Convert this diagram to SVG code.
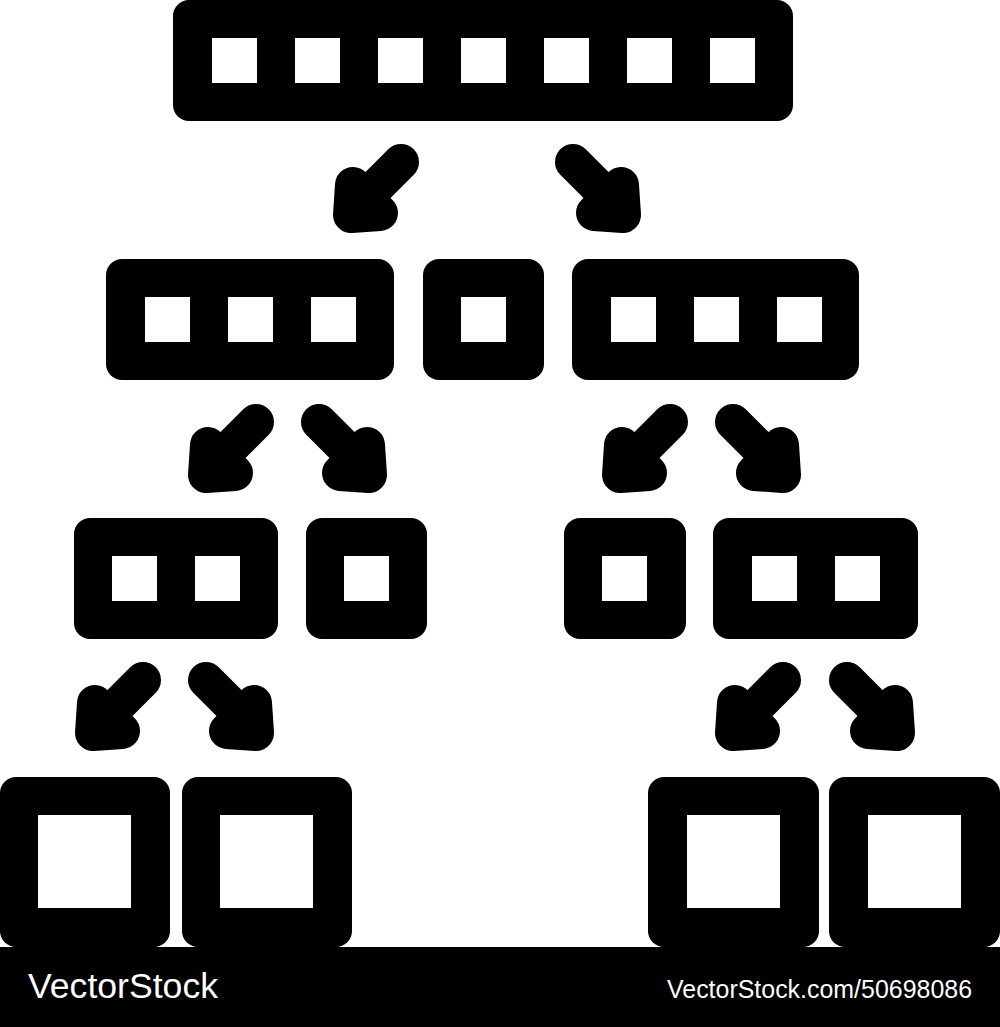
<svg xmlns="http://www.w3.org/2000/svg" xmlns:xlink="http://www.w3.org/1999/xlink" width="1000" height="1027" viewBox="0 0 1000 1027">
<style>
.box{fill:#000}
.hole{fill:#fff}
.arr{fill:#000;stroke:#000;stroke-width:36;stroke-linecap:round;stroke-linejoin:round}
.wm{fill:#fff;font-family:"Liberation Sans",Arial,sans-serif}
</style>
<defs>
<g id="arrow">
<line class="arr" x1="68" y1="17" x2="27" y2="58"/>
<polygon class="arr" points="20,40 18,70 47,68"/>
</g>
</defs>
<rect width="1000" height="1027" fill="#fff"/>
<g id="n-top">
<rect class="box" x="173" y="0" width="620" height="121" rx="16"/>
<rect class="hole" x="212" y="38" width="45" height="45"/>
<rect class="hole" x="295" y="38" width="45" height="45"/>
<rect class="hole" x="378" y="38" width="45" height="45"/>
<rect class="hole" x="461" y="38" width="45" height="45"/>
<rect class="hole" x="544" y="38" width="45" height="45"/>
<rect class="hole" x="627" y="38" width="45" height="45"/>
<rect class="hole" x="710" y="38" width="45" height="45"/>
</g>
<g id="n-l2-left">
<rect class="box" x="106" y="259" width="288" height="121" rx="16"/>
<rect class="hole" x="145" y="297" width="45" height="45"/>
<rect class="hole" x="228" y="297" width="45" height="45"/>
<rect class="hole" x="311" y="297" width="45" height="45"/>
</g>
<g id="n-l2-mid">
<rect class="box" x="423" y="259" width="121" height="121" rx="16"/>
<rect class="hole" x="461" y="297" width="45" height="45"/>
</g>
<g id="n-l2-right">
<rect class="box" x="572" y="259" width="287" height="121" rx="16"/>
<rect class="hole" x="611" y="297" width="45" height="45"/>
<rect class="hole" x="694" y="297" width="45" height="45"/>
<rect class="hole" x="777" y="297" width="45" height="45"/>
</g>
<g id="n-l3-a">
<rect class="box" x="74" y="518" width="204" height="121" rx="16"/>
<rect class="hole" x="112" y="556" width="45" height="45"/>
<rect class="hole" x="195" y="556" width="45" height="45"/>
</g>
<g id="n-l3-b">
<rect class="box" x="306" y="518" width="121" height="121" rx="16"/>
<rect class="hole" x="344" y="556" width="45" height="45"/>
</g>
<g id="n-l3-c">
<rect class="box" x="564" y="518" width="122" height="121" rx="16"/>
<rect class="hole" x="602" y="556" width="45" height="45"/>
</g>
<g id="n-l3-d">
<rect class="box" x="713" y="518" width="205" height="121" rx="16"/>
<rect class="hole" x="752" y="556" width="45" height="45"/>
<rect class="hole" x="835" y="556" width="45" height="45"/>
</g>
<g id="n-l4-a">
<rect class="box" x="0" y="777" width="170" height="170" rx="16"/>
<rect class="hole" x="38" y="815" width="93" height="93"/>
</g>
<g id="n-l4-b">
<rect class="box" x="182" y="777" width="170" height="170" rx="16"/>
<rect class="hole" x="220" y="815" width="93" height="93"/>
</g>
<g id="n-l4-c">
<rect class="box" x="648" y="777" width="171" height="170" rx="16"/>
<rect class="hole" x="687" y="815" width="93" height="93"/>
</g>
<g id="n-l4-d">
<rect class="box" x="829" y="777" width="171" height="170" rx="16"/>
<rect class="hole" x="868" y="815" width="93" height="93"/>
</g>
<g id="connectors">
<use xlink:href="#arrow" href="#arrow" transform="translate(333,145)"/>
<use xlink:href="#arrow" href="#arrow" transform="translate(641,145) scale(-1,1)"/>
<use xlink:href="#arrow" href="#arrow" transform="translate(188,405)"/>
<use xlink:href="#arrow" href="#arrow" transform="translate(387,405) scale(-1,1)"/>
<use xlink:href="#arrow" href="#arrow" transform="translate(602,405)"/>
<use xlink:href="#arrow" href="#arrow" transform="translate(801,405) scale(-1,1)"/>
<use xlink:href="#arrow" href="#arrow" transform="translate(75,663)"/>
<use xlink:href="#arrow" href="#arrow" transform="translate(274,663) scale(-1,1)"/>
<use xlink:href="#arrow" href="#arrow" transform="translate(715,663)"/>
<use xlink:href="#arrow" href="#arrow" transform="translate(915,663) scale(-1,1)"/>
</g>
<g id="watermark">
<rect x="0" y="947" width="1000" height="80" fill="#000"/>
<text class="wm" x="28" y="998" font-size="35" textLength="190" lengthAdjust="spacingAndGlyphs">VectorStock</text>
<text class="wm" x="667" y="998" font-size="25" textLength="305" lengthAdjust="spacingAndGlyphs">VectorStock.com/50698086</text>
</g>
</svg>
